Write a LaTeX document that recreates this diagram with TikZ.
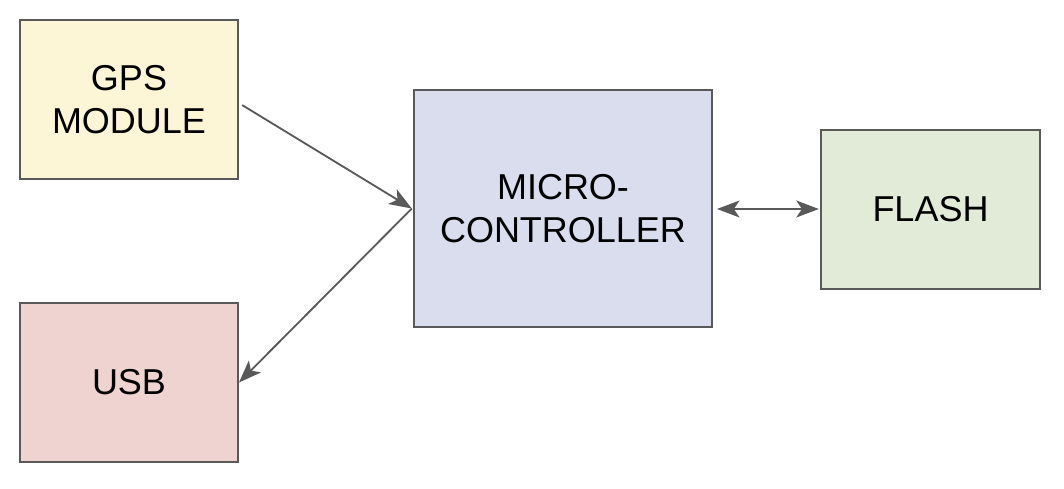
\documentclass[tikz,border=0pt]{standalone}
\usepackage{fontspec}
\setmainfont{Liberation Sans}
\usetikzlibrary{arrows.meta}
\definecolor{edgegray}{HTML}{595959}
\definecolor{gpsfill}{HTML}{FCF5D6}
\definecolor{usbfill}{HTML}{EED3D1}
\definecolor{mcufill}{HTML}{D9DDEE}
\definecolor{flashfill}{HTML}{E2EBD7}
\tikzset{
	block/.style={draw=edgegray, line width=1.4pt, align=center, inner sep=0pt,
		font=\fontsize{25.6}{30.6}\selectfont},
	link/.style={draw=edgegray, line width=1.3pt, -{Stealth[length=16pt,width=12pt,inset=4pt]}},
	duallink/.style={draw=edgegray, line width=1.4pt, {Stealth[length=16pt,width=12pt,inset=4pt]}-{Stealth[length=16pt,width=12pt,inset=4pt]}}
}

\begin{document}
\begin{tikzpicture}
			%%%%% START %%%%%
			\useasboundingbox (0, 0) rectangle (26.6, 12.2);
			
			\node[block, fill=gpsfill, minimum width=5.45cm, minimum height=3.975cm] (gps) at (3.225, 9.7125) {GPS\\MODULE};
			\node[block, fill=usbfill, minimum width=5.45cm, minimum height=3.975cm] (usb) at (3.225, 2.6375) {USB};
			
			\node[block, fill=mcufill, minimum width=7.45cm, minimum height=5.925cm] (mcu) at (14.075, 6.9875) {MICRO-\\CONTROLLER};
			\node[block, fill=flashfill, minimum width=5.475cm, minimum height=3.975cm] (flash) at (23.2625, 6.9625) {FLASH};
			
			\draw[link] ([shift={(0.08,-0.14)}]gps.east) -- ([shift={(-0.03,0)}]mcu.west);
			\draw[link] ([shift={(-0.03,0)}]mcu.west) -- (usb.east);
			\draw[duallink] ([shift={(0.1,-0.0125)}]mcu.east) -- ([shift={(-0.03,-0.0125)}]mcu.east -| flash.west);
			
			%%%%% END %%%%%
\end{tikzpicture}
\end{document}
